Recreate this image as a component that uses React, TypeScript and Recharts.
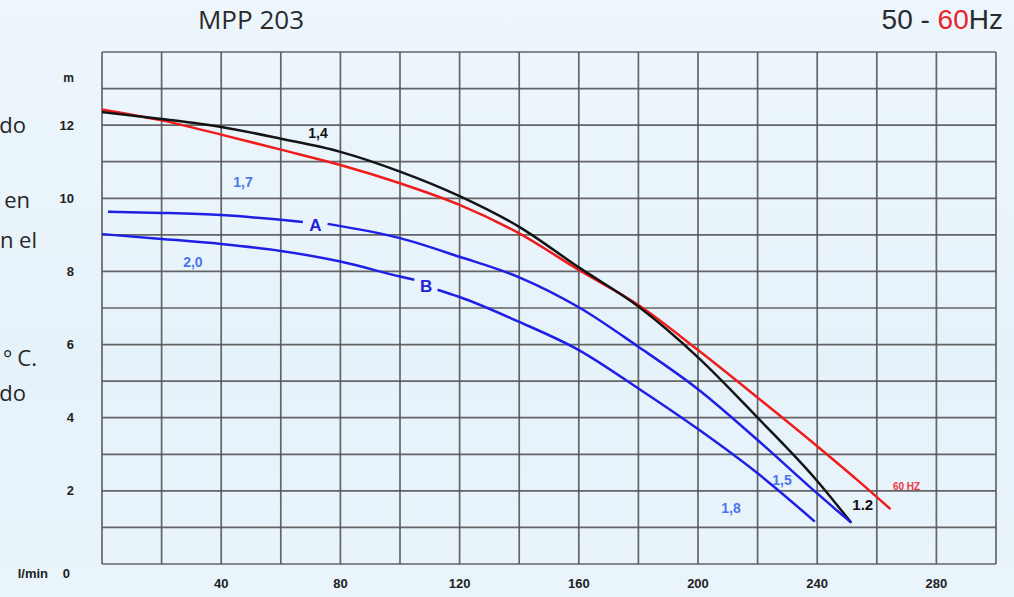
import React from "react";
import {
  LineChart,
  Line,
  XAxis,
  YAxis,
  CartesianGrid,
  ReferenceDot,
} from "recharts";

// flow (l/min) and head (m), one pair of arrays per curve
const flowBlack = [0, 20, 40, 60, 80, 100, 120, 140, 160, 180, 200, 220, 240, 251.4];
const headBlack = [12.36, 12.17, 11.95, 11.63, 11.27, 10.73, 10.06, 9.22, 8.11, 7.04, 5.65, 4.0, 2.27, 1.13];

const flowRed = [0, 20, 40, 60, 80, 100, 120, 140, 160, 180, 200, 220, 240, 253.7, 264.6];
const headRed = [12.43, 12.13, 11.74, 11.33, 10.91, 10.41, 9.82, 9.04, 8.04, 7.08, 5.85, 4.55, 3.22, 2.28, 1.5];

// curve A, with a break where the "A" sits
const flowA = [2, 20, 40, 60, 67.4, 71, 75.7, 100, 120, 140, 160, 180, 200, 220, 240, 251.4];
const headA = [9.63, 9.6, 9.54, 9.41, 9.35, null, 9.3, 8.91, 8.4, 7.84, 7.02, 5.94, 4.78, 3.39, 1.93, 1.13];

// curve B, with a break where the "B" sits
const flowB = [0, 20, 40, 60, 80, 100, 104.8, 109, 112.6, 120, 140, 160, 180, 200, 220, 239.2];
const headB = [9.02, 8.89, 8.75, 8.56, 8.27, 7.86, 7.77, null, 7.5, 7.3, 6.62, 5.85, 4.8, 3.69, 2.48, 1.16];

const flowTicks = [0, 20, 40, 60, 80, 100, 120, 140, 160, 180, 200, 220, 240, 260, 280, 300];
const flowLabels = [40, 80, 120, 160, 200, 240, 280];
const headTicks = [0, 1, 2, 3, 4, 5, 6, 7, 8, 9, 10, 11, 12, 13, 14];
const headLabels = [0, 2, 4, 6, 8, 10, 12];

const curveLabels = [
  { text: "1,4", q: 72.5, h: 11.79, color: "#111111", size: 14 },
  { text: "1,7", q: 47.3, h: 10.45, color: "#4a76ec", size: 14 },
  { text: "2,0", q: 30.5, h: 8.26, color: "#4a76ec", size: 14 },
  { text: "A", q: 71.6, h: 9.26, color: "#2222d6", size: 17 },
  { text: "B", q: 108.8, h: 7.6, color: "#2222d6", size: 17 },
  { text: "1,5", q: 228.2, h: 2.3, color: "#4a76ec", size: 14 },
  { text: "1,8", q: 211.1, h: 1.53, color: "#4a76ec", size: 14 },
  { text: "1.2", q: 255.3, h: 1.61, color: "#111111", size: 15 },
  { text: "60 HZ", q: 270, h: 2.13, color: "#ee3b3b", size: 10 },
];

const sideText = [
  { text: "do", right: 988, top: 113 },
  { text: "en", right: 984, top: 188 },
  { text: "n el", right: 977, top: 228 },
  { text: "º C.", right: 977, top: 346 },
  { text: "do", right: 988, top: 381 },
];

const toPoints = (q: number[], h: (number | null)[]) =>
  q.map((v, i) => ({ q: v, h: h[i] }));

const tickFont = '"Liberation Sans Narrow", "Liberation Sans", Arial, sans-serif';

const YTick = (props: any) => {
  const { x, y, payload } = props;
  const v = payload.value;
  if (v === 13) {
    return (
      <text x={x} y={y - 11} dy="0.35em" textAnchor="end" fontFamily={tickFont}
        fontWeight="bold" fontSize={12} fill="#222">m</text>
    );
  }
  if (!headLabels.includes(v)) return null;
  if (v === 0) {
    return (
      <g>
        <text x={x - 4} y={y + 9} dy="0.35em" textAnchor="end" fontFamily={tickFont}
          fontWeight="bold" fontSize={13} fill="#222">0</text>
        <text x={x - 26} y={y + 9} dy="0.35em" textAnchor="end" fontFamily={tickFont}
          fontWeight="bold" fontSize={13} fill="#222">l/min</text>
      </g>
    );
  }
  return (
    <text x={x} y={y} dy="0.35em" textAnchor="end" fontFamily={tickFont}
      fontWeight="bold" fontSize={13} fill="#222">{v}</text>
  );
};

const XTick = (props: any) => {
  const { x, y, payload } = props;
  if (!flowLabels.includes(payload.value)) return null;
  return (
    <text x={x} y={y} dy="0.71em" textAnchor="middle" fontFamily={tickFont}
      fontWeight="bold" fontSize={13} fill="#222">{payload.value}</text>
  );
};

export default function App() {
  return (
    <div
      style={{
        position: "absolute",
        left: 0,
        top: 0,
        width: 1014,
        height: 597,
        overflow: "hidden",
        background: "linear-gradient(180deg, #edf6fc 0%, #e6f2fa 60%, #e9f4fb 100%)",
      }}
    >
      <div style={{ position: "absolute", left: 151, width: 200, top: 6, textAlign: "center",
        fontFamily: '"Open Sans", sans-serif', fontSize: 26, lineHeight: 1, color: "#2a2a2a" }}>
        MPP 203
      </div>
      <div style={{ position: "absolute", right: 11, top: 6, whiteSpace: "nowrap",
        fontFamily: '"Liberation Sans", Arial, sans-serif', fontSize: 28, lineHeight: 1, color: "#2a2a2a" }}>
        50 - <span style={{ color: "#e8252b" }}>60</span>Hz
      </div>
      {sideText.map((s, i) => (
        <div key={i} style={{ position: "absolute", right: s.right, top: s.top, whiteSpace: "nowrap",
          fontFamily: '"Open Sans", sans-serif', fontSize: 22, lineHeight: 1, color: "#262626" }}>
          {s.text}
        </div>
      ))}
      <LineChart
        width={1014}
        height={597}
        margin={{ top: 52, right: 18, bottom: 0, left: 0 }}
        style={{ position: "absolute", left: 0, top: 0 }}
      >
        <CartesianGrid stroke="#555555" strokeWidth={1.7} strokeOpacity={0.9} />
        <XAxis
          type="number"
          dataKey="q"
          domain={[0, 300]}
          ticks={flowTicks}
          height={33}
          axisLine={false}
          tickLine={false}
          tickSize={0}
          tickMargin={15}
          tick={<XTick />}
          interval={0}
        />
        <YAxis
          type="number"
          dataKey="h"
          domain={[0, 14]}
          ticks={headTicks}
          width={102}
          axisLine={false}
          tickLine={false}
          tickSize={0}
          tickMargin={28}
          tick={<YTick />}
          interval={0}
        />
        <Line data={toPoints(flowRed, headRed)} dataKey="h" type="monotone" stroke="#f01c1c"
          strokeWidth={2.5} dot={false} isAnimationActive={false} />
        <Line data={toPoints(flowBlack, headBlack)} dataKey="h" type="monotone" stroke="#141414"
          strokeWidth={2.5} dot={false} isAnimationActive={false} />
        <Line data={toPoints(flowA, headA)} dataKey="h" type="monotone" stroke="#1f1fe6"
          strokeWidth={2.5} dot={false} connectNulls={false} isAnimationActive={false} />
        <Line data={toPoints(flowB, headB)} dataKey="h" type="monotone" stroke="#1f1fe6"
          strokeWidth={2.5} dot={false} connectNulls={false} isAnimationActive={false} />
        {curveLabels.map((l) => (
          <ReferenceDot
            key={l.text}
            x={l.q}
            y={l.h}
            r={0}
            shape={(p: any) => (
              <text x={p.cx} y={p.cy} dy="0.35em" textAnchor="middle" fontFamily={tickFont}
                fontWeight="bold" fontSize={l.size} fill={l.color}>{l.text}</text>
            )}
          />
        ))}
      </LineChart>
    </div>
  );
}
